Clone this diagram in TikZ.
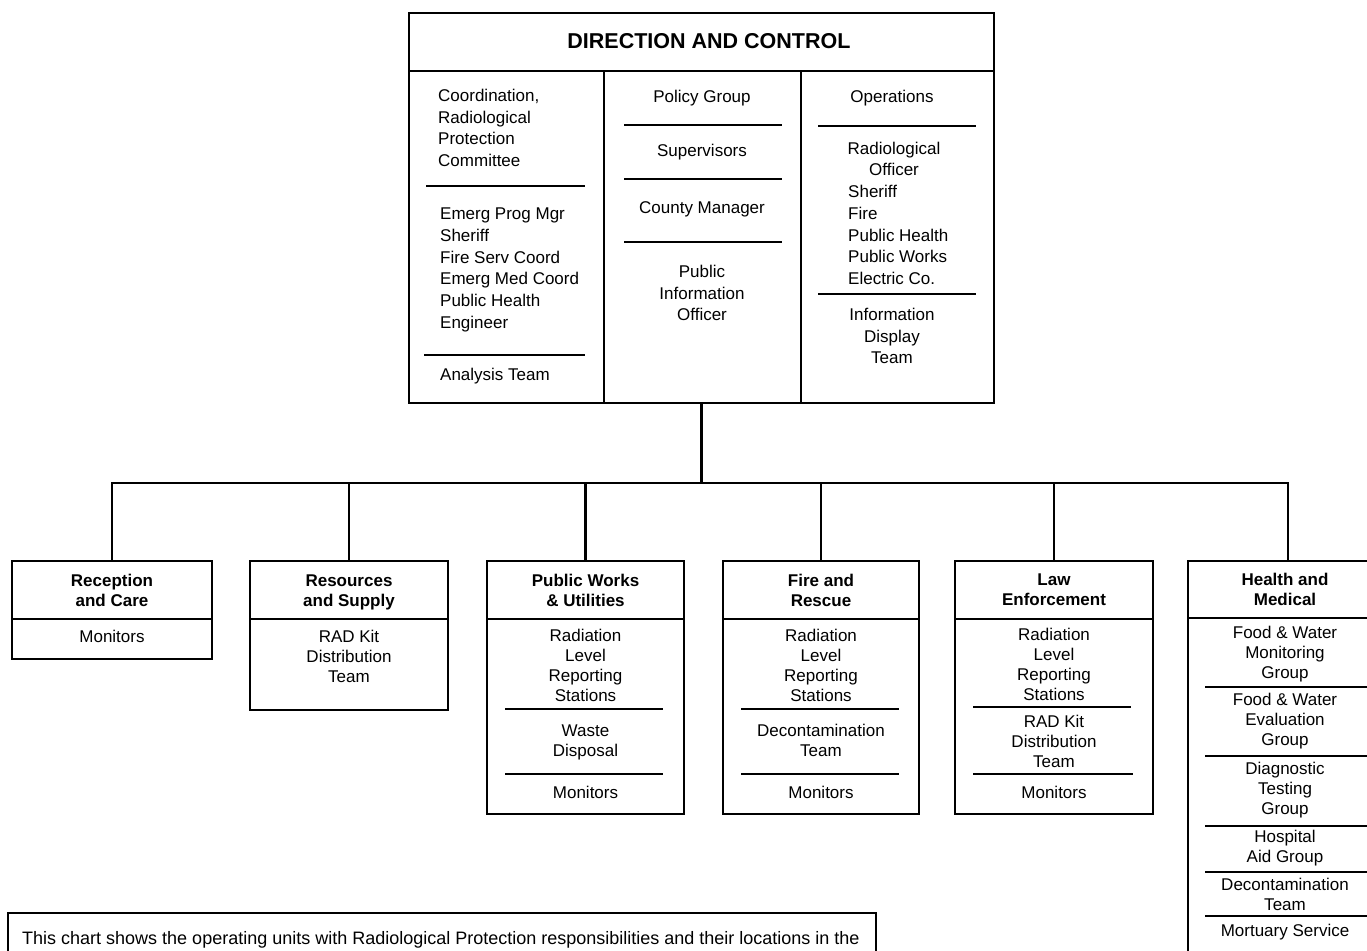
\documentclass[tikz,border=0pt]{standalone}
\usepackage{fontspec}
\setmainfont{Liberation Sans}
\begin{document}
\begin{tikzpicture}[x=1pt,y=-1pt,
  box/.style={draw, line width=2pt, inner sep=0pt, anchor=north west},
  sep/.style={line width=2pt},
  conn/.style={line width=2.2pt},
  txt/.style={inner sep=0pt, align=center, font=\fontsize{17}{20}\selectfont},
  ltxt/.style={inner sep=0pt, align=left, anchor=west, font=\fontsize{17}{21.7}\selectfont},
  ctxt/.style={inner sep=0pt, align=center, font=\fontsize{17}{21.7}\selectfont},
  hd/.style={inner sep=0pt, align=center, font=\bfseries\fontsize{17}{20}\selectfont},
]
\useasboundingbox (0,0) rectangle (1367,950);
\clip (0,0) rectangle (1367,950);

% ---------- Direction and Control ----------
\node[box, minimum width=585, minimum height=390] (dc) at (408,12) {};
\node[font=\bfseries\fontsize{21.5}{24}\selectfont, inner sep=0pt] (title) at (709,41) {DIRECTION AND CONTROL};
\draw[sep] (408,71) -- (993,71);
\draw[sep] (604,71) -- (604,402);
\draw[sep] (801,71) -- (801,402);

% left column
\node[ltxt] (coord) at (438,128) {Coordination,\\Radiological\\Protection\\Committee};
\draw[sep] (426,186) -- (585,186);
\node[ltxt] (emerg) at (440,270) {Emerg Prog Mgr\\Sheriff\\Fire Serv Coord\\Emerg Med Coord\\Public Health\\Engineer};
\draw[sep] (424,355) -- (585,355);
\node[ltxt] (analysis) at (440,376) {Analysis Team};

% middle column
\node[ctxt] (policy) at (702,98) {Policy Group};
\draw[sep] (624,125) -- (782,125);
\node[ctxt] (superv) at (702,152) {Supervisors};
\draw[sep] (624,179) -- (782,179);
\node[ctxt] (county) at (702,209) {County Manager};
\draw[sep] (624,242) -- (782,242);
\node[ctxt] (pio) at (702,293) {Public\\Information\\Officer};

% right column
\node[ctxt] (ops) at (892,98) {Operations};
\draw[sep] (818,126) -- (976,126);
\node[ctxt] (radoff) at (894,159) {Radiological\\Officer};
\node[ltxt] (opslist) at (848,235) {Sheriff\\Fire\\Public Health\\Public Works\\Electric Co.};
\draw[sep] (818,294) -- (976,294);
\node[ctxt] (idt) at (892,336) {Information\\Display\\Team};

% ---------- operating units ----------
\node[box, minimum width=200, minimum height=98] (b1) at (11,560) {};
\node[box, minimum width=198, minimum height=149] (b2) at (249,560) {};
\node[box, minimum width=197, minimum height=253] (b3) at (486,560) {};
\node[box, minimum width=196, minimum height=253] (b4) at (722,560) {};
\node[box, minimum width=198, minimum height=253] (b5) at (954,560) {};
\node[box, minimum width=200, minimum height=450] (b6) at (1187,560) {};

% connectors
\coordinate (bar) at (702,483);
\draw[conn] (dc.south) -- (dc.south |- bar);
\draw[conn, line join=miter] (b1.north) -- (b1.north |- bar) -- (b6.north |- bar) -- (b6.north);
\draw[conn] (b2.north) -- (b2.north |- bar);
\draw[conn] (b3.north) -- (b3.north |- bar);
\draw[conn] (b4.north) -- (b4.north |- bar);
\draw[conn] (b5.north) -- (b5.north |- bar);

% header dividers
\foreach \b in {b1,b2,b3,b4,b5}{
  \draw[sep] (\b.west |- 0,619) -- (\b.east |- 0,619);
}
\draw[sep] (b6.west |- 0,618) -- (b6.east |- 0,618);

% b1
\node[hd] (h1) at (b1.north |- 0,590) {Reception\\and Care};
\node[txt] (b1a) at (b1.north |- 0,636) {Monitors};
% b2
\node[hd] (h2) at (b2.north |- 0,592) {Resources\\and Supply};
\node[txt] (b2a) at (b2.north |- 0,656) {RAD Kit\\Distribution\\Team};
% b3
\node[hd] (h3) at (b3.north |- 0,590) {Public Works\\\& Utilities};
\node[txt] (b3a) at (b3.north |- 0,665.5) {Radiation\\Level\\Reporting\\Stations};
\draw[sep] (505,709) -- (663,709);
\node[txt] (b3b) at (b3.north |- 0,742.5) {Waste\\Disposal};
\draw[sep] (505,774) -- (663,774);
\node[txt] (b3c) at (b3.north |- 0,792) {Monitors};
% b4
\node[hd] (h4) at (b4.north |- 0,590) {Fire and\\Rescue};
\node[txt] (b4a) at (b4.north |- 0,665.5) {Radiation\\Level\\Reporting\\Stations};
\draw[sep] (741,709) -- (899,709);
\node[txt] (b4b) at (b4.north |- 0,740.5) {Decontamination\\Team};
\draw[sep] (741,774) -- (899,774);
\node[txt] (b4c) at (b4.north |- 0,792) {Monitors};
% b5
\node[hd] (h5) at (b5.north |- 0,590) {Law\\Enforcement};
\node[txt] (b5a) at (b5.north |- 0,664.5) {Radiation\\Level\\Reporting\\Stations};
\draw[sep] (973,707) -- (1131,707);
\node[txt] (b5b) at (b5.north |- 0,741) {RAD Kit\\Distribution\\Team};
\draw[sep] (973,774) -- (1133,774);
\node[txt] (b5c) at (b5.north |- 0,792) {Monitors};
% b6
\node[hd] (h6) at (1285,589) {Health and\\Medical};
\node[txt] (b6a) at (1285,654) {Food \& Water\\Monitoring\\Group};
\draw[sep] (1205,687) -- (1367,687);
\node[txt] (b6b) at (1285,721) {Food \& Water\\Evaluation\\Group};
\draw[sep] (1205,756) -- (1367,756);
\node[txt] (b6c) at (1285,790) {Diagnostic\\Testing\\Group};
\draw[sep] (1205,826) -- (1367,826);
\node[txt] (b6d) at (1285,848) {Hospital\\Aid Group};
\draw[sep] (1205,872) -- (1367,872);
\node[txt] (b6e) at (1285,894) {Decontamination\\Team};
\draw[sep] (1205,916) -- (1367,916);
\node[txt] (b6f) at (1285,932) {Mortuary Service};

% ---------- note ----------
\node[box, minimum width=868, minimum height=80] (note) at (7,912) {};
\node[inner sep=0pt, anchor=west, font=\fontsize{18}{20}\selectfont] (notetxt) at (22,940) {This chart shows the operating units with Radiological Protection responsibilities and their locations in the};
\end{tikzpicture}
\end{document}
